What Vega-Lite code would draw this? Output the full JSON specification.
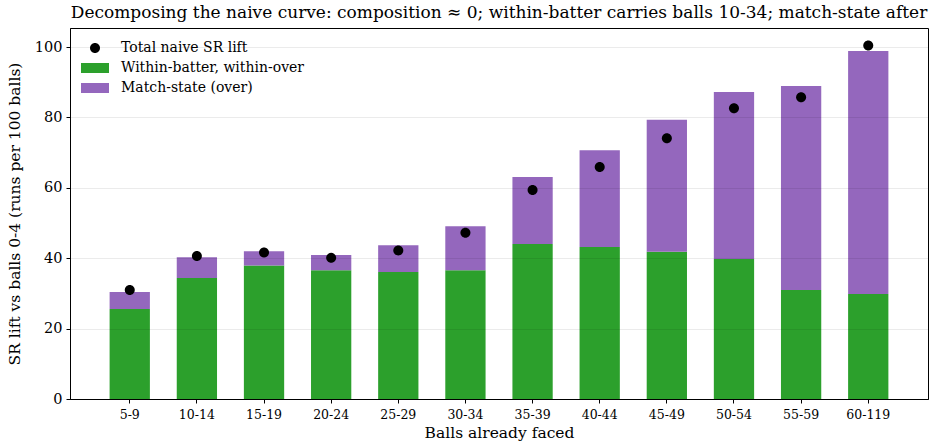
{
  "$schema": "https://vega.github.io/schema/vega-lite/v6.json",
  "width": 858,
  "height": 371,
  "autosize": {"type": "none"},
  "padding": {"left": 70, "top": 28, "right": 8, "bottom": 46},
  "background": "white",
  "title": {
    "text": "Decomposing the naive curve: composition ≈ 0; within-batter carries balls 10-34; match-state after",
    "font": "DejaVu Serif",
    "fontSize": 17,
    "fontWeight": "normal",
    "color": "black",
    "anchor": "middle",
    "offset": 6
  },
  "config": {
    "font": "DejaVu Serif",
    "view": {"stroke": "black", "strokeWidth": 1}
  },
  "datasets": {
    "bars": [
      {"bin": "5-9", "series": "Within-batter, within-over", "k": 1, "value": 25.6},
      {"bin": "5-9", "series": "Match-state (over)", "k": 2, "value": 4.8},
      {"bin": "10-14", "series": "Within-batter, within-over", "k": 1, "value": 34.4},
      {"bin": "10-14", "series": "Match-state (over)", "k": 2, "value": 5.9},
      {"bin": "15-19", "series": "Within-batter, within-over", "k": 1, "value": 37.9},
      {"bin": "15-19", "series": "Match-state (over)", "k": 2, "value": 4.1},
      {"bin": "20-24", "series": "Within-batter, within-over", "k": 1, "value": 36.6},
      {"bin": "20-24", "series": "Match-state (over)", "k": 2, "value": 4.3},
      {"bin": "25-29", "series": "Within-batter, within-over", "k": 1, "value": 36.1},
      {"bin": "25-29", "series": "Match-state (over)", "k": 2, "value": 7.6},
      {"bin": "30-34", "series": "Within-batter, within-over", "k": 1, "value": 36.6},
      {"bin": "30-34", "series": "Match-state (over)", "k": 2, "value": 12.5},
      {"bin": "35-39", "series": "Within-batter, within-over", "k": 1, "value": 44.0},
      {"bin": "35-39", "series": "Match-state (over)", "k": 2, "value": 19.1},
      {"bin": "40-44", "series": "Within-batter, within-over", "k": 1, "value": 43.2},
      {"bin": "40-44", "series": "Match-state (over)", "k": 2, "value": 27.5},
      {"bin": "45-49", "series": "Within-batter, within-over", "k": 1, "value": 41.8},
      {"bin": "45-49", "series": "Match-state (over)", "k": 2, "value": 37.5},
      {"bin": "50-54", "series": "Within-batter, within-over", "k": 1, "value": 39.8},
      {"bin": "50-54", "series": "Match-state (over)", "k": 2, "value": 47.4},
      {"bin": "55-59", "series": "Within-batter, within-over", "k": 1, "value": 31.0},
      {"bin": "55-59", "series": "Match-state (over)", "k": 2, "value": 57.9},
      {"bin": "60-119", "series": "Within-batter, within-over", "k": 1, "value": 29.8},
      {"bin": "60-119", "series": "Match-state (over)", "k": 2, "value": 69.1}
    ],
    "totals": [
      {"bin": "5-9", "series": "Total naive SR lift", "value": 31.0},
      {"bin": "10-14", "series": "Total naive SR lift", "value": 40.6},
      {"bin": "15-19", "series": "Total naive SR lift", "value": 41.6},
      {"bin": "20-24", "series": "Total naive SR lift", "value": 40.1},
      {"bin": "25-29", "series": "Total naive SR lift", "value": 42.2},
      {"bin": "30-34", "series": "Total naive SR lift", "value": 47.2},
      {"bin": "35-39", "series": "Total naive SR lift", "value": 59.4},
      {"bin": "40-44", "series": "Total naive SR lift", "value": 65.9},
      {"bin": "45-49", "series": "Total naive SR lift", "value": 74.1},
      {"bin": "50-54", "series": "Total naive SR lift", "value": 82.6},
      {"bin": "55-59", "series": "Total naive SR lift", "value": 85.7},
      {"bin": "60-119", "series": "Total naive SR lift", "value": 100.4}
    ]
  },
  "encoding": {
    "x": {
      "field": "bin",
      "type": "nominal",
      "sort": null,
      "scale": {"paddingInner": 0.4, "paddingOuter": 0.59},
      "axis": {
        "title": "Balls already faced",
        "titleFont": "DejaVu Serif",
        "titleFontSize": 15.5,
        "titleFontWeight": "normal",
        "titleColor": "black",
        "titlePadding": 5,
        "labelFont": "DejaVu Serif",
        "labelFontSize": 12.5,
        "labelColor": "black",
        "labelAngle": 0,
        "labelPadding": 5,
        "tickColor": "black",
        "tickSize": 4,
        "domainColor": "black",
        "grid": false,
        "bandPosition": 0.5
      }
    },
    "y": {
      "field": "value",
      "type": "quantitative",
      "scale": {"domain": [0, 105.4], "nice": false},
      "axis": {
        "title": "SR lift vs balls 0-4 (runs per 100 balls)",
        "titleFont": "DejaVu Serif",
        "titleFontSize": 15.5,
        "titleFontWeight": "normal",
        "titleColor": "black",
        "titlePadding": 12,
        "labelFont": "DejaVu Serif",
        "labelFontSize": 14.5,
        "labelColor": "black",
        "labelPadding": 4,
        "values": [0, 20, 40, 60, 80, 100],
        "tickColor": "black",
        "tickSize": 4,
        "domainColor": "black",
        "grid": true,
        "gridColor": "#000000",
        "gridOpacity": 0.08,
        "zindex": 1
      }
    },
    "color": {
      "field": "series",
      "type": "nominal",
      "scale": {
        "domain": ["Total naive SR lift", "Within-batter, within-over", "Match-state (over)"],
        "range": ["#000000", "#2ca02c", "#9467bd"]
      },
      "legend": {
        "title": null,
        "orient": "none",
        "legendX": 15,
        "legendY": 10,
        "labelFont": "DejaVu Serif",
        "labelFontSize": 14,
        "labelColor": "black",
        "labelLimit": 400,
        "rowPadding": 3,
        "symbolSize": 400,
        "symbolOpacity": 1,
        "symbolStrokeWidth": 0,
        "labelOffset": 16
      }
    }
  },
  "layer": [
    {
      "data": {"name": "bars"},
      "mark": {"type": "bar", "opacity": 1},
      "encoding": {
        "y": {"field": "value", "type": "quantitative", "stack": "zero"},
        "order": {"field": "k", "type": "quantitative", "sort": "ascending"}
      }
    },
    {
      "data": {"name": "totals"},
      "mark": {"type": "point", "filled": true, "opacity": 1, "size": 400},
      "encoding": {
        "shape": {
          "field": "series",
          "type": "nominal",
          "scale": {
            "domain": ["Total naive SR lift", "Within-batter, within-over", "Match-state (over)"],
            "range": ["M0.5,0A0.5,0.5 0 1,1 -0.5,0A0.5,0.5 0 1,1 0.5,0Z", "M-1.4,-0.5H1.4V0.5H-1.4Z", "M-1.4,-0.5H1.4V0.5H-1.4Z"]
          },
          "legend": {
            "title": null,
            "orient": "none",
            "legendX": 15,
            "legendY": 10,
            "labelFont": "DejaVu Serif",
            "labelFontSize": 14,
            "labelColor": "black",
            "labelLimit": 400,
            "rowPadding": 3,
            "symbolSize": 400,
            "symbolOpacity": 1,
            "symbolStrokeWidth": 0,
            "labelOffset": 16
          }
        }
      }
    }
  ]
}
